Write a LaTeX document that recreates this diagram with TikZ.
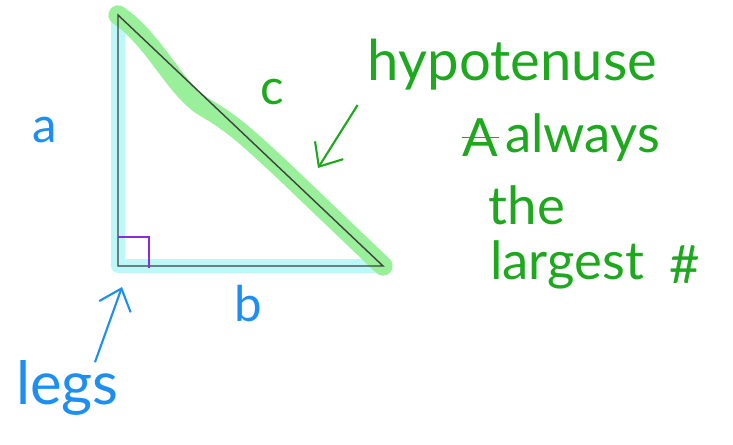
\documentclass[tikz,border=0pt]{standalone}
\usepackage{fontspec}
\setmainfont{Lato}
\usepackage{tikz}
\usetikzlibrary{arrows.meta, positioning, calc}
\definecolor{penBlue}{HTML}{1E8FF0}
\definecolor{penGreen}{HTML}{1EA81E}
\definecolor{penPurple}{HTML}{8A2BE2}
\definecolor{hlGreen}{HTML}{9AF09A}
\definecolor{hlCyan}{HTML}{BDF8F8}

\begin{document}
\begin{tikzpicture}[
  pen/.style={font=\fontsize{#1}{#1}\selectfont, inner sep=0pt},
  note/.style={pen=30, text=penGreen},
  leg/.style={pen=28, text=penBlue},
  marker/.style={line width=#1, line cap=round, line join=round},
  scrawl/.style={line width=1.2pt, -{Straight Barb[length=11pt,width=19pt]}},
]
  \useasboundingbox (0,0) rectangle (14.66,8.9);

  % corners of the triangle
  \coordinate (top) at (2.36,8.6);
  \coordinate (rt) at (2.36,3.58);
  \coordinate (far) at (7.66,3.58);

  % highlighter strokes
  \draw[marker=8pt, hlCyan] (top) -- (rt) -- (far);
  \draw[marker=11pt, hlGreen] (top) .. controls (3.1,8.1) and (3.5,7.1) .. (4.1,6.75)
    .. controls (4.7,6.4) and (5.0,6.1) .. (5.6,5.55) -- (far);

  \draw[line width=0.8pt, black!75] (top) -- (rt) -- (far) -- cycle;
  \draw[line width=0.9pt, penPurple] ($(rt)+(0,0.58)$) -| ($(rt)+(0.62,-0.05)$);

  % side labels
  \node[leg] (a) at (0.9,6.3) {a};
  \node[leg] (b) at (4.96,2.82) {b};
  \node[note, pen=28] (c) at (5.44,7.06) {c};

  \node[pen=34, text=penBlue] (legs) at (1.35,1.15) {legs};
  \coordinate (legtip) at (2.44,3.16);
  \draw[scrawl, penBlue] ($(legs.north)+(0.55,-0.05)$) -- (legtip);

  % hypotenuse note
  \node[note, pen=32] (hyp) at (10.25,7.6) {hypotenuse};
  \coordinate (hyptip) at (6.36,5.54);
  \draw[scrawl, penGreen] ($(hyp.west)+(-0.2,-0.8)$) -- (hyptip);

  \node[note] (always) at (11.65,6.15) {always};
  \node[note, left=0.12cm of always] (scratch) {A};
  \draw[penGreen, line width=1pt] (scratch.west) -- (scratch.east);
  \node[note] (the) at (10.54,4.8) {the};
  \node[note] (largest) at (11.34,3.6) {largest};
  \node[note, right=0.5cm of largest] (hash) {\#};
\end{tikzpicture}
\end{document}
